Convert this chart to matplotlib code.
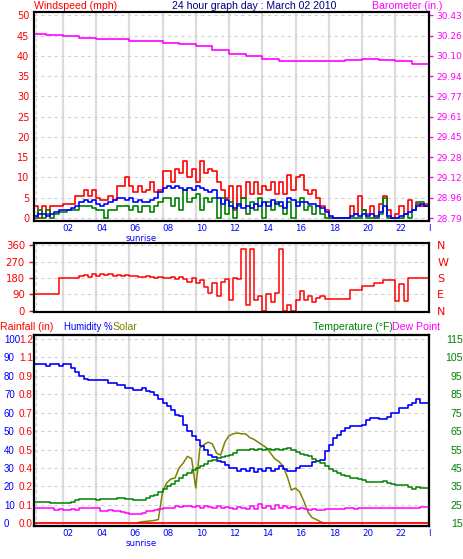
import numpy as np
import matplotlib
matplotlib.use('Agg')
import matplotlib.pyplot as plt

# ---- data ----
hours = np.arange(0.25, 24.01, 0.25)   # 15 minute samples

wind_gust = [3, 0, 3, 1, 3,
             3, 3, 3.5, 3.5, 3.5,
             5.5, 5.5, 7, 5.5, 7, 5,
             4.5, 4.5, 5.5, 4.5,
             8, 8, 10, 8,
             6.5, 8, 6.5, 7, 9, 6.5, 7,
             11.5, 11.5, 9, 12, 11, 14, 10, 12, 9, 14, 11, 12, 11.5,
             9, 7, 5, 8,
             2, 8, 5, 9, 6, 9,
             6, 8, 7, 9, 6,
             9, 6, 10.5, 7, 10, 10.5,
             7, 6, 7, 5, 3,
             2, 0,
             0, 0, 0, 0,
             3, 1, 5.5, 2,
             1, 3, 0, 3.5, 5.5,
             2, 0, 1,
             3, 1, 4.5, 2,
             3.5, 3, 3.5, 2]
wind_avg = [0.5, 1, 1, 0.5, 1,
            1.5, 2, 2, 2, 2.5,
            3, 4, 4.5, 4, 4.5, 3.5,
            3, 3.5, 4, 4.5,
            5, 5, 4.5, 5,
            4, 4.5, 4, 4, 4.5, 5, 6.5,
            7.5, 8, 7.5, 8, 7.5, 7, 7.5, 7, 8, 7.5, 7, 6.5, 7,
            5, 3.5, 4.5, 3,
            2.5, 3.5, 2.5, 3, 2.5, 3.5,
            3, 4, 3, 4.5, 3.5,
            4, 2.5, 5, 4.5, 3, 4,
            4, 3.5, 3.5, 3, 2.5,
            1.5, 0.5,
            0, 0, 0, 0,
            0.5, 1, 0.5, 1,
            0.5, 1, 0.5, 1.5, 3,
            0.5, 0, 0,
            0.5, 1, 1.5, 2,
            3, 3.5, 3, 2.5]
wind_speed = [0, 2, 0, 2, 0,
              1, 1.5, 1.5, 2, 2,
              2, 3, 3, 3, 2.5, 2,
              2, 0, 2, 2,
              3, 3, 3, 2,
              3, 1.5, 3, 3, 1.5, 3, 4,
              5, 5, 3, 5, 2, 7, 4, 5, 6, 2, 5, 4, 5,
              0, 5, 1, 4,
              0, 3, 5, 1, 4, 2,
              5, 0, 4, 2, 4,
              3, 1, 4, 0, 4, 5,
              2, 3, 1, 3, 1,
              0, 0,
              0, 0, 0, 0,
              0, 0, 0, 2,
              0, 0, 0, 1, 5,
              0, 0, 0,
              0, 1, 0, 2,
              4, 4, 3, 1]

baro_hours = [0.3, 1, 2, 3, 4, 5, 6, 7, 8, 9, 10, 11, 12, 13, 14, 15, 16,
              17, 18, 19, 20, 21, 22, 23, 24]
baro = [30.28, 30.27, 30.26, 30.25, 30.24, 30.24, 30.22, 30.22, 30.21, 30.20,
        30.18, 30.15, 30.12, 30.10, 30.08, 30.06, 30.06, 30.06, 30.065, 30.07,
        30.075, 30.07, 30.06, 30.04, 30.02]
baro_labels = ['28.79', '28.96', '29.12', '29.28', '29.45', '29.61', '29.77',
               '29.94', '30.10', '30.26', '30.43']

wind_dir = [90, 90, 90, 90, 90, 90,
            183, 183, 183, 183, 183, 190,
            195, 185, 200, 190, 205, 195, 200, 190, 195, 192, 198, 190,
            192, 188, 186, 190, 185, 180, 186, 182, 178, 184, 176, 185,
            175, 160, 180, 150, 170, 130,
            100, 150, 80, 160,
            175, 60, 180, 175,
            340, 30, 340, 60,
            80, 0, 90, 50,
            100, 340, 0,
            30, 0, 60, 110,
            60, 80, 50, 70, 80,
            63, 63, 63, 63, 63, 63,
            115, 115, 115,
            138, 138, 138,
            155, 155,
            170, 170, 170,
            55, 145, 55, 183, 183, 183, 183, 183, 183]

humidity = [86.5, 86.5, 86.5, 85.5, 86.5, 86.5, 85.5, 86.5, 86.5,
            84, 82, 80, 78.5, 77.6, 77.6, 77.6, 77.6, 77.6, 76, 76, 75, 75,
            73.5, 73.5, 72.4, 72.4, 73.4, 72, 71, 69.5, 67.5, 65.5, 63.5, 61.5,
            59, 58, 53.5, 50, 47.5, 45, 42, 40, 37, 36, 33.6, 33, 31.5, 30,
            30, 28.5, 29.5, 28.5, 30, 28, 29.5, 28.5, 30, 28.5, 29.5, 30.9,
            29.5, 28.2, 28.2, 30, 31.3, 31.3, 31.3, 33, 33.5, 34.5, 39, 42.5,
            46, 48, 50, 51.5, 52.5, 52.5, 53, 53.5, 56, 57.2, 57.2, 56.3, 56.3,
            57.5, 59.9, 60, 62.7, 62.7, 64, 65.4, 67.5, 65.4, 65.4, 65.4]

temperature = [26.7, 26.7, 26.7, 26.7, 26, 26, 26,
               26, 26, 26.5,
               27.8, 28,
               28, 28, 28, 27.5, 28, 28, 28, 28, 28.5, 28.5, 28, 28, 27.5,
               27.5, 27.5,
               28.5, 29.5, 30.5, 32, 33.5, 35, 36.5, 38, 39.6, 41, 42.5, 44,
               45, 46, 47, 48.5, 49.5, 50.4, 51, 51.5, 52.2, 53, 54.5, 55,
               54.5, 55.5, 54.5, 55.5, 55, 55.5, 54.5, 55.5, 55, 55.5, 56,
               54.5, 53.5, 52.5, 52, 51.3, 50, 48.8, 47.5, 46, 44.5, 43.2,
               42.3, 41.3, 40.5, 39.8, 39.5, 39, 38.5, 37.5, 37.2, 37.2, 37.2,
               37.8, 37, 36.3, 35.9, 35.9, 35.9, 34.5, 33.6, 34.5, 34.3, 34.3,
               34]

dew_point = [23.3, 23.3, 23.3, 23.3, 23.3,
             22.3, 22.8, 22.3, 22.3, 22.8, 22.3,
             23.3, 23.3, 23, 23.3, 23,
             21.8, 21.8, 22.3, 21.8, 21.5,
             21, 20.5, 20.2, 20.2, 20.2, 20.8,
             21.5, 21.5, 22, 22.5,
             23, 23, 23.5,
             24.5, 24, 24.5, 24.5,
             24, 24.5, 23.5, 24.5, 24, 23, 24.5, 23, 24, 23.5, 22.5, 24, 23,
             22.5, 24.5, 22.5, 25.5, 23, 24.5, 22.5, 25, 23.5, 24.5, 23, 24, 22.5,
             23, 22.5, 22, 22.5, 22, 22.3, 22.8,
             22.9, 22.9, 22.9, 22.9, 23, 23, 22.9, 23, 23, 23, 23, 23, 23,
             23.1, 23.1, 23, 23.1, 23.2, 23.2, 23.3, 23.3, 23.4, 23.7, 23.7, 23.5]

nan = np.nan
solar = [nan] * 25 + [
    0.3, 0.8, 1, 1.2, 1.5, 2, 17, 21.8, 24, 24.5, 30, 32.7, 36.3, 35, 19.1,
    40.8, 42.7, 44, 43, 38, 37, 44, 47.5, 48.5, 49, 48.5, 48.5, 46.5, 45.5,
    44, 42.5, 41, 38, 35, 33.5, 31, 25.4, 18, 19, 17, 12, 6, 3, 2, 0.8, 0] + [nan] * 25

rain_hours = [0.25, 24.0]
rain_in = [0.0, 0.0]
rain_labels = ['0.0', '0.1', '0.2', '0.4', '0.5', '0.6', '0.7', '0.8', '0.9', '1.1', '1.2']

hour_ticks = [2, 4, 6, 8, 10, 12, 14, 16, 18, 20, 22, 24]
hour_labels = ['02', '04', '06', '08', '10', '12', '14', '16', '18', '20', '22', 'I']

# ---- layout ----
W, H = 463, 559
fig = plt.figure(figsize=(W / 100, H / 100), dpi=100)
plt.rcParams['font.family'] = 'DejaVu Sans'

def box(l, t, r, b):
    return [l / W, 1 - b / H, (r - l) / W, (b - t) / H]

def ftext(x, y, s, color, size=7.6):
    fig.text(x / W, 1 - y / H, s, color=color, va='center', ha='left',
             fontfamily='Liberation Sans', fontsize=size)

X0, X1 = 0.27, 24.03
GRID_V = '#dcdcdc'
GRID_H = '#d2d2d2'

def style(ax, yticks):
    ax.set_xlim(X0, X1)
    for s in ax.spines.values():
        s.set_linewidth(1.5)
        s.set_color('black')
    ax.set_xticks(hour_ticks)
    ax.grid(axis='x', color=GRID_V, lw=1.6, ls='-')
    ax.set_yticks(yticks)
    ax.grid(axis='y', color=GRID_H, lw=0.8, ls=(0, (3, 3)))
    ax.axvline(0.42, color=GRID_H, lw=0.8, ls=(0, (3, 3)), zorder=0.5)
    ax.set_axisbelow(True)
    ax.tick_params(axis='x', length=0, pad=2.0)

def xlabels(ax, y_sun):
    ax.set_xticklabels(hour_labels, ha='left', color='blue', fontsize=6.3)
    fig.text(126 / W, 1 - y_sun / H, 'sunrise', color='blue', fontsize=6.2,
             ha='left', va='top')

# ---- panel 1: wind speed + barometer ----
ax1 = fig.add_axes(box(34, 12, 429, 221))
style(ax1, range(0, 51, 5))
ax1.set_ylim(-0.74, 50.86)
ax1.tick_params(axis='y', length=0, pad=3.4, labelcolor='red', labelsize=7)
xlabels(ax1, 234)
ax1.plot(hours, wind_gust, color='red', lw=1.2, drawstyle='steps-post')
ax1.plot(hours, wind_speed, color='green', lw=1.2, drawstyle='steps-post')
ax1.plot(hours, wind_avg, color='blue', lw=1.2, drawstyle='steps-post')

ax1b = ax1.twinx()
ax1b.set_ylim(28.79 - 0.74 / 50 * 1.64, 28.79 + 50.86 / 50 * 1.64)
ax1b.set_yticks(np.linspace(28.79, 30.43, 11), baro_labels)
ax1b.tick_params(axis='y', length=3, width=1, color='magenta', pad=2.5,
                 labelcolor='magenta', labelsize=6.5)
ax1b.plot(baro_hours, baro, color='magenta', lw=1.2, drawstyle='steps-post')
for s in ax1b.spines.values():
    s.set_linewidth(1.5)

ftext(34, 6, 'Windspeed (mph)', 'red')
ftext(172, 6, '24 hour graph day : March 02 2010', '#000080')
ftext(372, 6, 'Barometer (in.)', 'magenta')

# ---- panel 2: wind direction ----
ax2 = fig.add_axes(box(34, 243, 429, 312))
style(ax2, [0, 90, 180, 270, 360])
ax2.set_ylim(-7.2, 373.2)
ax2.set_xticklabels([])
ax2.tick_params(axis='y', length=3.5, width=1, color='red', pad=3,
                labelcolor='red', labelsize=7.3)
ax2.plot(hours, wind_dir, color='red', lw=1.1, drawstyle='steps-post')
ax2b = ax2.twinx()
ax2b.set_ylim(-7.2, 373.2)
ax2b.set_yticks([0, 90, 180, 270, 360], ['N', 'E', 'S', 'W', 'N'])
ax2b.tick_params(axis='y', length=0, pad=6, labelcolor='red', labelsize=8)
for s in ax2b.spines.values():
    s.set_linewidth(1.5)

# ---- panel 3: humidity, solar, rain, temperature, dew point ----
HUM_LIM = (-1.52, 102.17)
ax3 = fig.add_axes(box(34, 335, 429, 526))
style(ax3, range(0, 101, 10))
ax3.set_ylim(*HUM_LIM)
ax3.set_yticks(range(0, 101, 10), [str(v) for v in range(0, 101, 10)],
               ha='left', fontfamily='Liberation Sans', fontsize=7.0, color='blue')
ax3.tick_params(axis='y', length=0, pad=21.6)
xlabels(ax3, 539)

ax3r = ax3.twinx()
ax3r.yaxis.set_ticks_position('left')
ax3r.set_ylim(HUM_LIM[0] * 0.012, HUM_LIM[1] * 0.012)
ax3r.set_yticks(np.linspace(0, 1.2, 11), rain_labels,
                fontfamily='Liberation Sans', fontsize=7.2, color='red')
ax3r.tick_params(axis='y', length=0, pad=0.8)

ax3t = ax3.twinx()
ax3t.set_ylim(HUM_LIM[0] + 15, HUM_LIM[1] + 15)
ax3t.set_yticks(range(15, 116, 10), [str(v) for v in range(15, 116, 10)],
                ha='right', fontfamily='Liberation Sans', fontsize=7.6, color='green')
ax3t.tick_params(axis='y', length=0, pad=24.2)
for a in (ax3r, ax3t):
    for s in a.spines.values():
        s.set_linewidth(1.5)

ax3.plot(hours, solar, color='#808000', lw=1.1)
ax3.plot(hours, humidity, color='blue', lw=1.2, drawstyle='steps-post')
ax3r.plot(rain_hours, rain_in, color='red', lw=1.3)
ax3t.plot(hours, dew_point, color='magenta', lw=1.1, drawstyle='steps-post')
ax3t.plot(hours, temperature, color='green', lw=1.1, drawstyle='steps-post')

ftext(0.5, 327, 'Rainfall (in)', 'red')
ftext(64, 327, 'Humidity %', 'blue', size=6.9)
ftext(112, 327, 'Solar', '#808000')
ftext(313, 327, 'Temperature (°F)', 'green')
ftext(392, 327, 'Dew Point', 'magenta')

fig.savefig('out.png', dpi=100)
